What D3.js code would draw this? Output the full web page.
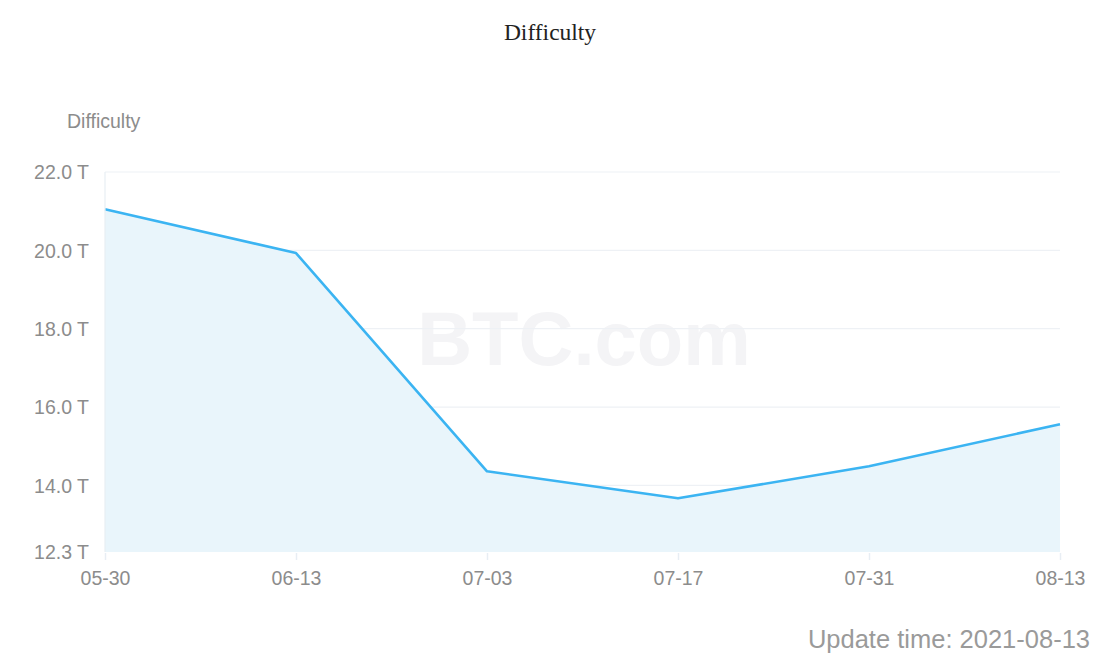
<!DOCTYPE html>
<html><head><meta charset="utf-8">
<script src="https://cdn.jsdelivr.net/npm/d3@7/dist/d3.min.js"></script>
<style>
body{margin:0;background:#fff;}
svg text{font-family:"Liberation Sans",Arial,sans-serif;}
</style></head>
<body><svg id="c" width="1100" height="656"></svg>
<script>
const categories = ["05-30","06-13","07-03","07-17","07-31","08-13"];
const difficulty = [21.05, 19.93, 14.36, 13.67, 14.49, 15.56];
const yTicks = [12.3, 14, 16, 18, 20, 22];
const chartTitle = "Difficulty";
const yAxisName = "Difficulty";
const updateText = "Update time: 2021-08-13";

const svg = d3.select("#c");
const x = d3.scalePoint().domain(categories).range([105, 1060]);
const y = d3.scaleLinear().domain([12.3, 22]).range([552, 172]);

// title
svg.append("text").attr("x",550).attr("y",40).attr("text-anchor","middle")
  .style("font-family","'Liberation Serif','Times New Roman',serif").style("font-size","23.5px").attr("fill","#222").text(chartTitle);

// watermark
svg.append("text").attr("x",584).attr("y",365).attr("text-anchor","middle")
  .style("font-size","76px").style("font-weight","bold").attr("fill","#f4f4f6").text("BTC.com");

// grid
svg.append("g").selectAll("line").data(yTicks.slice(1)).join("line")
  .attr("x1",105).attr("x2",1060).attr("y1",d=>y(d)).attr("y2",d=>y(d))
  .attr("stroke","#eef1f5").attr("stroke-width",1.2);

// area
const area = d3.area().x((d,i)=>x(categories[i])).y0(y(12.3)).y1(d=>y(d));
svg.append("path").datum(difficulty).attr("d",area).attr("fill","#e9f5fb");
const line = d3.line().x((d,i)=>x(categories[i])).y(d=>y(d));
svg.append("path").datum(difficulty).attr("d",line).attr("fill","none")
  .attr("stroke","#3bb4f2").attr("stroke-width",2.6).attr("stroke-linejoin","round");

// y axis
svg.append("line").attr("x1",105).attr("x2",105).attr("y1",172).attr("y2",552).attr("stroke","#e8eef4").attr("stroke-width",1.2);
const yAxis = d3.axisLeft(y).tickValues(yTicks).tickSize(0).tickPadding(16).tickFormat(d=>d3.format(".1f")(d)+" T");
const gy = svg.append("g").attr("transform","translate(105,0)").call(yAxis);
gy.select(".domain").remove();
gy.selectAll("text").style("font-size","19.5px").attr("fill","#8c8c8c").attr("dy","0.35em");

svg.append("text").attr("x",67).attr("y",128).style("font-size","19.5px").attr("fill","#8c8c8c").text(yAxisName);

// x axis
const xAxis = d3.axisBottom(x).tickSize(7).tickPadding(11);
const gx = svg.append("g").attr("transform","translate(0,553)").call(xAxis);
gx.select(".domain").remove();
gx.selectAll("line").attr("stroke","#e8eef4").attr("stroke-width",1.5);
gx.selectAll("text").style("font-size","19.5px").attr("fill","#8c8c8c");

svg.append("text").attr("x",1090).attr("y",648).attr("text-anchor","end")
  .style("font-size","25.5px").attr("fill","#9a9a9a").text(updateText);
</script></body></html>
